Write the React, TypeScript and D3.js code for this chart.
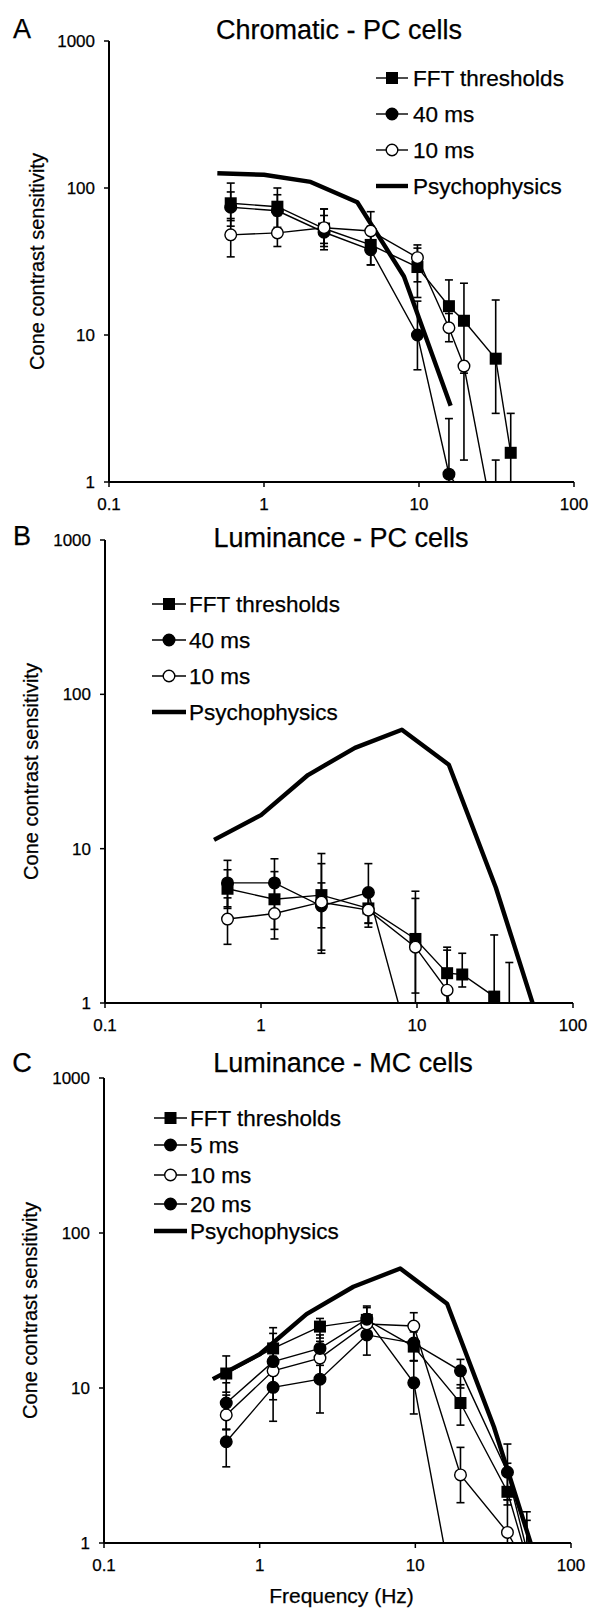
import React from 'react';
import * as d3 from 'd3';

const FONT = "'Liberation Sans', Arial, Helvetica, sans-serif";

// ---------- axis ticks ----------
const xTicks = [0.1, 1, 10, 100];
const xTickLabels = ['0.1', '1', '10', '100'];
const yTicks = [1, 10, 100, 1000];
const yTickLabels = ['1', '10', '100', '1000'];

// ---------- psychophysics ----------
const psychFreqChrom = [0.5, 1, 2, 4, 8, 16];
const psychChrom = [126, 123, 110, 80, 25, 3.3];
const psychFreqLum = [0.5, 1, 2, 4, 8, 16, 32, 64];
const psychLum = [11.4, 16.5, 30, 45, 59, 35, 5.6, 0.62];

// ---------- Panel A: Chromatic - PC cells ----------
const freqA = [0.61, 1.22, 2.44, 4.88, 9.77, 15.6, 19.5, 31.25, 39.06];
const fftA = [78.7, 74.6, 53, 41, 29, 15.7, 12.5, 6.9, 1.58];
const fftALo = [60, 54, 38, 30, 18, 11, 5.5, 2.93, 0.5];
const fftAHi = [108, 100, 72, 55, 39, 23.7, 22.5, 17.3, 2.93];
const ms40A = [74, 70, 50, 38, 10, 1.13, 0.8];
const ms40ALo = [55, 52, 40, 30, 5.8, 0.5, 0.8];
const ms40AHi = [94, 90, 65, 50, 17, 2.7, 0.8];
const ms10A = [48, 49.5, 53.7, 51, 33.6, 11.2, 6.15, 0.45];
const ms10ALo = [34, 40, 42, 40, 23, 9, 1.41, 0.45];
const ms10AHi = [62, 65, 72, 69, 41, 14, 6.6, 1.41];

// ---------- Panel B: Luminance - PC cells ----------
const freqB = [0.61, 1.22, 2.44, 4.88, 9.77, 15.6, 19.5, 31.25, 39.06];
const fftB = [5.5, 4.7, 5.0, 4.1, 2.6, 1.56, 1.53, 1.1, 0.85];
const fftBLo = [4.1, 3.0, 2.2, 3.1, 0.5, 0.6, 1.27, 0.5, 0.5];
const fftBHi = [7.3, 7.1, 9.3, 5.3, 5.3, 2.3, 2.1, 2.76, 1.83];
const ms40B = [6.0, 6.0, 4.25, 5.2, 0.39];
const ms40BLo = [4.2, 4.5, 2.1, 3.3, 0.39];
const ms40BHi = [8.4, 8.6, 8.0, 8.0, 0.39];
const ms10B = [3.5, 3.8, 4.5, 4.0, 2.3, 1.21, 0.3];
const ms10BLo = [2.4, 2.6, 3.07, 3.28, 1.16, 0.5, 0.3];
const ms10BHi = [4.8, 5.0, 6.0, 5.0, 4.76, 2.2, 0.3];

// ---------- Panel C: Luminance - MC cells ----------
const freqC = [0.61, 1.22, 2.44, 4.88, 9.77, 19.5, 39.06, 52];
const fftC = [12.4, 18.0, 24.9, 27.5, 18.5, 8.0, 2.14, 0.8];
const fftCLo = [9.4, 14, 21, 22, 15, 5.76, 1.76, 0.4];
const fftCHi = [16.1, 24.5, 28.1, 33.8, 23, 10.5, 3.27, 1.59];
const ms5C = [4.5, 10.1, 11.4, 22, 19.5, 12.9, 2.86, 0.9];
const ms5CLo = [3.1, 6.1, 6.9, 16.3, 15, 10, 1.9, 0.5];
const ms5CHi = [5.4, 13, 16, 27, 24, 15.3, 4.35, 1.4];
const ms10C = [6.7, 12.9, 15.6, 25.9, 25.1, 2.75, 1.17, 0.7];
const ms10CLo = [5.4, 10, 12, 22, 20, 1.82, 0.7, 0.7];
const ms10CHi = [9.0, 16, 20, 30, 30.6, 4.14, 1.9, 0.7];
const ms20C = [8.0, 14.8, 18.0, 27.8, 10.8, 0.26];
const ms20CLo = [5.4, 8.4, 14, 22, 6.8, 0.26];
const ms20CHi = [10.8, 22.5, 22, 33, 15, 0.26];

type Mk = 'square' | 'filled' | 'open';
interface Series { label: string; mk: Mk; f: number[]; v: number[]; lo: number[]; hi: number[]; }

const seriesA: Series[] = [
  { label: 'FFT thresholds', mk: 'square', f: freqA, v: fftA, lo: fftALo, hi: fftAHi },
  { label: '40 ms', mk: 'filled', f: freqA, v: ms40A, lo: ms40ALo, hi: ms40AHi },
  { label: '10 ms', mk: 'open', f: freqA, v: ms10A, lo: ms10ALo, hi: ms10AHi },
];
const seriesB: Series[] = [
  { label: 'FFT thresholds', mk: 'square', f: freqB, v: fftB, lo: fftBLo, hi: fftBHi },
  { label: '40 ms', mk: 'filled', f: freqB, v: ms40B, lo: ms40BLo, hi: ms40BHi },
  { label: '10 ms', mk: 'open', f: freqB, v: ms10B, lo: ms10BLo, hi: ms10BHi },
];
const seriesC: Series[] = [
  { label: 'FFT thresholds', mk: 'square', f: freqC, v: fftC, lo: fftCLo, hi: fftCHi },
  { label: '5 ms', mk: 'filled', f: freqC, v: ms5C, lo: ms5CLo, hi: ms5CHi },
  { label: '10 ms', mk: 'open', f: freqC, v: ms10C, lo: ms10CLo, hi: ms10CHi },
  { label: '20 ms', mk: 'filled', f: freqC, v: ms20C, lo: ms20CLo, hi: ms20CHi },
];

const TXT = { fontFamily: FONT, fill: '#000', stroke: '#000', strokeWidth: 0.25 };

function Marker({ mk, cx, cy }: { mk: Mk; cx: number; cy: number }) {
  if (mk === 'square') return <rect x={cx - 6} y={cy - 6} width={12} height={12} fill="#000" />;
  return <circle cx={cx} cy={cy} r={5.8} fill={mk === 'open' ? '#fff' : '#000'} stroke="#000" strokeWidth={1.4} />;
}

interface PanelProps {
  id: string; letter: string; letterY: number; title: string; titleX: number; titleY: number;
  x0: number; x1: number; yTop: number; yBot: number; yTitleX: number;
  series: Series[]; psychF: number[]; psychV: number[];
  legend: { lx1: number; lx2: number; tx: number; rows: number[] };
  xLabel?: string;
}

function Panel(p: PanelProps) {
  const x = d3.scaleLog().domain([0.1, 100]).range([p.x0, p.x1]);
  const y = d3.scaleLog().domain([1, 1000]).range([p.yBot, p.yTop]);
  const line = d3.line<[number, number]>().x(d => x(d[0])).y(d => y(d[1]));
  const clipId = `clip-${p.id}`;
  const psychPts = p.psychF.map((f, i) => [f, p.psychV[i]] as [number, number]);
  const cap = 4;
  const legendItems = [...p.series.map(s => ({ label: s.label, mk: s.mk as Mk | 'psych' })), { label: 'Psychophysics', mk: 'psych' as const }];
  return (
    <g>
      <defs>
        <clipPath id={clipId}>
          <rect x={p.x0} y={p.yTop - 10} width={p.x1 - p.x0 + 10} height={p.yBot - p.yTop + 10} />
        </clipPath>
      </defs>
      <text x={22} y={p.letterY} fontSize={27} {...TXT} textAnchor="middle">{p.letter}</text>
      <text x={p.titleX} y={p.titleY} fontSize={27} {...TXT} textAnchor="middle">{p.title}</text>
      <g clipPath={`url(#${clipId})`}>
        <path d={line(psychPts) || ''} fill="none" stroke="#000" strokeWidth={4.4} strokeLinejoin="round" />
        {p.series.map((s, si) => {
          const pts = s.v.map((v, i) => [s.f[i], v] as [number, number]);
          return (
            <g key={si}>
              {pts.map((d, i) => {
                const xx = x(d[0]);
                const ylo = y(s.lo[i]);
                const yhi = y(s.hi[i]);
                if (s.lo[i] === s.hi[i]) return null;
                return (
                  <g key={i} stroke="#000" strokeWidth={1.6}>
                    <line x1={xx} x2={xx} y1={ylo} y2={yhi} />
                    <line x1={xx - cap} x2={xx + cap} y1={yhi} y2={yhi} />
                    <line x1={xx - cap} x2={xx + cap} y1={ylo} y2={ylo} />
                  </g>
                );
              })}
              <path d={line(pts) || ''} fill="none" stroke="#000" strokeWidth={1.4} />
            </g>
          );
        })}
        {p.series.map((s, si) => (
          <g key={'m' + si}>
            {s.v.map((v, i) => <Marker key={i} mk={s.mk} cx={x(s.f[i])} cy={y(v)} />)}
          </g>
        ))}
      </g>
      {/* axes */}
      <line x1={p.x0} x2={p.x0} y1={p.yTop} y2={p.yBot} stroke="#000" strokeWidth={2} />
      <line x1={p.x0} x2={p.x1} y1={p.yBot} y2={p.yBot} stroke="#000" strokeWidth={2} />
      {yTicks.map((t, i) => (
        <g key={'yt' + i}>
          <line x1={p.x0 - 5} x2={p.x0} y1={y(t)} y2={y(t)} stroke="#000" strokeWidth={1.5} />
          <text x={p.x0 - 14} y={y(t)} dy="0.35em" fontSize={17} {...TXT} textAnchor="end">{yTickLabels[i]}</text>
        </g>
      ))}
      {xTicks.map((t, i) => (
        <g key={'xt' + i}>
          <line x1={x(t)} x2={x(t)} y1={p.yBot} y2={p.yBot + 5} stroke="#000" strokeWidth={1.5} />
          <text x={x(t)} y={p.yBot + 28} fontSize={17} {...TXT} textAnchor="middle">{xTickLabels[i]}</text>
        </g>
      ))}
      <text transform={`translate(${p.yTitleX},${(p.yTop + p.yBot) / 2}) rotate(-90)`} dy="0.35em" fontSize={20} {...TXT} textAnchor="middle">Cone contrast sensitivity</text>
      {p.xLabel && (
        <text x={(p.x0 + p.x1) / 2 + 4} y={p.yBot + 60} fontSize={21} {...TXT} textAnchor="middle">{p.xLabel}</text>
      )}
      {/* legend */}
      {legendItems.map((it, i) => {
        const ry = p.legend.rows[i];
        const mx = (p.legend.lx1 + p.legend.lx2) / 2;
        return (
          <g key={'lg' + i}>
            <line x1={p.legend.lx1} x2={p.legend.lx2} y1={ry} y2={ry} stroke="#000" strokeWidth={it.mk === 'psych' ? 4.4 : 1.4} />
            {it.mk !== 'psych' && <Marker mk={it.mk as Mk} cx={mx} cy={ry} />}
            <text x={p.legend.tx} y={ry} dy="0.36em" fontSize={22.5} {...TXT}>{it.label}</text>
          </g>
        );
      })}
    </g>
  );
}

export default function App() {
  return (
    <svg width={604} height={1621} style={{ position: 'absolute', left: 0, top: 0, background: '#fff' }}>
      <rect width={604} height={1621} fill="#fff" />
      <Panel id="a" letter="A" letterY={38} title="Chromatic - PC cells" titleX={339} titleY={39}
        x0={109} x1={574} yTop={41} yBot={482} yTitleX={37}
        series={seriesA} psychF={psychFreqChrom} psychV={psychChrom}
        legend={{ lx1: 376, lx2: 408, tx: 413, rows: [78, 114, 150, 186] }} />
      <Panel id="b" letter="B" letterY={545} title="Luminance - PC cells" titleX={341} titleY={547}
        x0={105} x1={573} yTop={540} yBot={1003} yTitleX={31}
        series={seriesB} psychF={psychFreqLum} psychV={psychLum}
        legend={{ lx1: 152, lx2: 186, tx: 189, rows: [604, 640, 676, 712] }} />
      <Panel id="c" letter="C" letterY={1072} title="Luminance - MC cells" titleX={343} titleY={1072}
        x0={104} x1={571} yTop={1078} yBot={1543} yTitleX={30}
        series={seriesC} psychF={psychFreqLum} psychV={psychLum}
        legend={{ lx1: 154, lx2: 187, tx: 190, rows: [1118, 1145, 1175, 1204, 1231] }}
        xLabel="Frequency (Hz)" />
    </svg>
  );
}
